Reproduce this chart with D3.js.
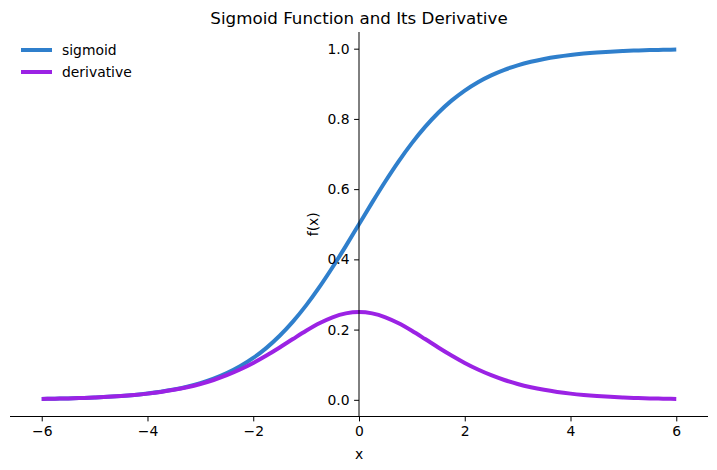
<!DOCTYPE html>
<html><head><meta charset="utf-8">
<script src="https://cdn.jsdelivr.net/npm/d3@7"></script>
<style>body{margin:0;background:#fff}svg{display:block}text{font-family:"DejaVu Sans",sans-serif}</style>
</head><body><svg id="c" width="717" height="470"></svg>
<script>
const xs = [-6,-5.75,-5.5,-5.25,-5,-4.75,-4.5,-4.25,-4,-3.75,-3.5,-3.25,-3,-2.75,-2.5,-2.25,-2,-1.75,-1.5,-1.25,-1,-0.75,-0.5,-0.25,0,0.25,0.5,0.75,1,1.25,1.5,1.75,2,2.25,2.5,2.75,3,3.25,3.5,3.75,4,4.25,4.5,4.75,5,5.25,5.5,5.75,6];
const sigmoid = [0.00247,0.00317,0.00407,0.00522,0.00669,0.00858,0.01099,0.01406,0.01799,0.02298,0.02931,0.03732,0.04743,0.06012,0.07586,0.09535,0.1192,0.1480,0.1824,0.2227,0.2689,0.3208,0.3775,0.4378,0.5,0.5622,0.6225,0.6792,0.7311,0.7773,0.8176,0.8520,0.8808,0.90465,0.92414,0.93988,0.95257,0.96268,0.97069,0.97702,0.98201,0.98594,0.98901,0.99142,0.99331,0.99478,0.99593,0.99683,0.99753];
const derivative = [0.00247,0.00316,0.00405,0.00519,0.00665,0.00851,0.01085,0.01386,0.01766,0.02245,0.02845,0.03592,0.04518,0.05651,0.07011,0.08626,0.1050,0.1261,0.1491,0.1731,0.1966,0.2179,0.2350,0.2461,0.25,0.2461,0.2350,0.2179,0.1966,0.1731,0.1491,0.1261,0.1050,0.08626,0.07011,0.05651,0.04518,0.03592,0.02845,0.02245,0.01766,0.01386,0.01085,0.00851,0.00665,0.00519,0.00405,0.00316,0.00247];
const xTicks = [-6,-4,-2,0,2,4,6];
const yTicks = [0.0,0.2,0.4,0.6,0.8,1.0];
const seriesNames = ["sigmoid","derivative"];
const colors = ["#2f7fcc","#9b22e4"];

const svg = d3.select("#c");
const L=10, R=708, T=32, B=416.5;
const FS=13.9;
const x = d3.scaleLinear().domain([-6.6,6.6]).range([L,R]);
const y = d3.scaleLinear().domain([-0.0475,1.0475]).range([B,T]);

// title
svg.append("text").attr("x",x(0)).attr("y",24).attr("text-anchor","middle").attr("font-size",16.7).attr("fill","#000").text("Sigmoid Function and Its Derivative");

// lines
const series=[sigmoid,derivative];
series.forEach((s,i)=>{
  const line=d3.line().x((d,j)=>x(xs[j])).y(d=>y(d)).curve(d3.curveMonotoneX);
  svg.append("path").datum(s).attr("d",line).attr("fill","none").attr("stroke",colors[i]).attr("stroke-width",4).attr("stroke-linecap","butt");
});

// x axis at bottom
const gx=svg.append("g").attr("transform",`translate(0,${B})`)
  .call(d3.axisBottom(x).tickValues(xTicks).tickSize(4.9).tickPadding(4.5).tickFormat(d=>d3.format("")(d).replace("-","\u2212")));
gx.select(".domain").attr("d",`M${L},0H${R}`).attr("stroke","#000").attr("stroke-width",1);
gx.selectAll("text").attr("font-size",FS).attr("fill","#000").attr("font-family","DejaVu Sans");
gx.selectAll("line").attr("stroke","#000");

// y axis at x=0
const gy=svg.append("g").attr("transform",`translate(${x(0)},0)`)
  .call(d3.axisLeft(y).tickValues(yTicks).tickSize(4.9).tickPadding(4.5).tickFormat(d3.format(".1f")));
gy.select(".domain").attr("d",`M0,${T}V${B}`).attr("stroke","#000").attr("stroke-width",1);
gy.selectAll("text").attr("font-size",FS).attr("fill","#000").attr("font-family","DejaVu Sans");
gy.selectAll("line").attr("stroke","#000");

// axis labels
svg.append("text").attr("x",x(0)).attr("y",459).attr("text-anchor","middle").attr("font-size",FS).text("x");
svg.append("text").attr("transform",`translate(318,${(T+B)/2}) rotate(-90)`).attr("text-anchor","middle").attr("font-size",FS).text("f(x)");

// legend
seriesNames.forEach((n,i)=>{
  const yy=50+i*22;
  svg.append("line").attr("x1",21).attr("x2",52).attr("y1",yy).attr("y2",yy).attr("stroke",colors[i]).attr("stroke-width",4);
  svg.append("text").attr("x",62).attr("y",yy+5).attr("font-size",FS).text(n);
});
</script></body></html>
